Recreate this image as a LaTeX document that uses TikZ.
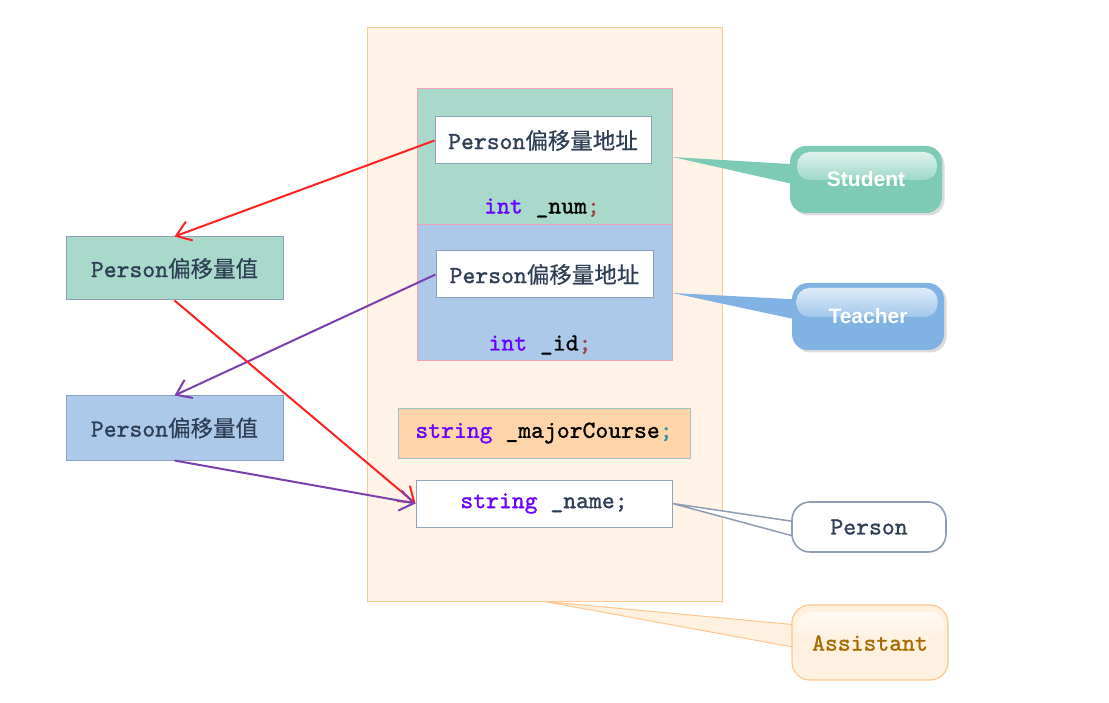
\documentclass[tikz,border=0pt]{standalone}
\usepackage{fontspec}
\newfontfamily\cjk{Noto Sans CJK SC}[FakeBold=0.5]
\newfontfamily\lsans{Liberation Sans}
\newfontfamily\codef{lmmono10-regular}[Extension=.otf, FakeBold=1.2]
\usetikzlibrary{arrows.meta}
\definecolor{outerfill}{HTML}{FFF2E6}
\definecolor{outerdraw}{HTML}{FFC98F}
\definecolor{stufill}{HTML}{A9D9CA}
\definecolor{teafill}{HTML}{ADC9EA}
\definecolor{pinkdraw}{HTML}{F2A2B6}
\definecolor{graydraw}{HTML}{8FA3B8}
\definecolor{majfill}{HTML}{FFD4A8}
\definecolor{majdraw}{HTML}{9CC2CA}
\definecolor{txt}{HTML}{2E3E55}
\definecolor{kw}{HTML}{6A00FF}
\definecolor{semired}{HTML}{A04040}
\definecolor{semiteal}{HTML}{2B91AF}
\definecolor{redarr}{HTML}{FF2222}
\definecolor{purarr}{HTML}{7A40B0}
\definecolor{stububfill}{HTML}{7ECBB5}
\definecolor{teububfill}{HTML}{80B3E3}
\definecolor{persdraw}{HTML}{8E9DB2}
\definecolor{asstfill}{HTML}{FFF0E0}
\definecolor{asstdraw}{HTML}{FFC68F}
\definecolor{assttxt}{HTML}{A86B00}
\newcommand\codesz{\codef\fontsize{24.5}{28}\selectfont}
\newcommand\perslabel[1]{{\codesz Person}{\cjk\fontsize{22.5}{28}\selectfont #1}}
\begin{document}
\begin{tikzpicture}[x=1pt,y=-1pt,
  box/.style={draw, rectangle, inner sep=0pt, line width=1pt},
  code/.style={font=\codesz, text=txt, inner sep=0pt},
  arr/.style={line width=2pt, -{Straight Barb[length=14pt,width=20pt,line width=2pt]}},
  bubble/.style={rectangle, rounded corners=16pt, inner sep=0pt},
  gloss/.style={rectangle, rounded corners=13pt, inner sep=0pt, draw=none},
  bubtxt/.style={font=\lsans\bfseries\fontsize{21}{24}\selectfont, text=white, inner sep=0pt}
]
\useasboundingbox (0,0) rectangle (1109,703);
\fill[white] (0,0) rectangle (1109,703);

% outer Assistant box
\node[box, draw=outerdraw, fill=outerfill, minimum width=355, minimum height=573] (outer) at (544.5,314.5) {};

% Student block
\node[box, draw=pinkdraw, fill=stufill, minimum width=255, minimum height=136] (stu) at (544.5,157) {};
\node[box, draw=graydraw, fill=white, minimum width=216, minimum height=47, text=txt] (in1) at (543,140.5) {\perslabel{偏移量地址}};
\node[code] (numtxt) at (542,208) {{\color{kw}int} {\color{black}\_num}{\color{semired};}};

% Teacher block
\node[box, draw=pinkdraw, fill=teafill, minimum width=255, minimum height=136] (tea) at (544.5,293) {};
\node[box, draw=graydraw, fill=white, minimum width=217, minimum height=47, text=txt] (in2) at (544.5,274.5) {\perslabel{偏移量地址}};
\node[code] (idtxt) at (540,345) {{\color{kw}int} {\color{black}\_id}{\color{semired};}};

% major course
\node[box, draw=majdraw, fill=majfill, minimum width=292, minimum height=50, font=\codesz] (maj) at (544,433) {{\color{kw}string} {\color{black}\_majorCourse}{\color{semiteal};}};

% name
\node[box, draw=graydraw, fill=white, minimum width=256, minimum height=47, font=\codesz, text=txt] (name) at (544,503.5) {{\color{kw}string} \_name;};

% left boxes
\node[box, draw=graydraw, fill=stufill, minimum width=217, minimum height=63, text=txt] (lg) at (174.5,268.5) {\perslabel{偏移量值}};
\node[box, draw=graydraw, fill=teafill, minimum width=217, minimum height=64, text=txt] (lb) at (174.5,428) {\perslabel{偏移量值}};

% arrows
\draw[arr, redarr] (in1.west) -- (lg.north);
\draw[arr, purarr] (in2.west) -- (lb.north);
\draw[arr, redarr] (lg.south) -- (name.west);
\draw[arr, purarr] (lb.south) -- (name.west);

% bubble shadows
\node[bubble, fill=black!14, minimum width=152, minimum height=67] (sbubsh) at (868.5,182) {};
\node[bubble, fill=black!14, minimum width=152, minimum height=67] (tbubsh) at (870.5,319) {};

% Student callout
\coordinate (sbubc) at (866,179.5);
\fill[stububfill] (stu.east) -- ([xshift=-60pt,yshift=14.5pt]sbubc) -- ([xshift=-60pt,yshift=-7.5pt]sbubc) -- cycle;
\node[bubble, fill=stububfill, minimum width=152, minimum height=67] (sbub) at (sbubc) {};
\node[gloss, top color=white!75!stububfill, bottom color=white!25!stububfill, minimum width=140, minimum height=28] (sgl) at (867,166) {};
\node[bubtxt] (stxt) at (866,179) {Student};

% Teacher callout
\coordinate (tbubc) at (868,316.5);
\fill[teububfill] (tea.east) -- ([xshift=-60pt,yshift=16.5pt]tbubc) -- ([xshift=-60pt,yshift=-5.5pt]tbubc) -- cycle;
\node[bubble, fill=teububfill, minimum width=152, minimum height=67] (tbub) at (tbubc) {};
\node[gloss, top color=white!75!teububfill, bottom color=white!25!teububfill, minimum width=141, minimum height=29] (tgl) at (867,302.5) {};
\node[bubtxt] (ttxt) at (868,316) {Teacher};

% Person callout
\coordinate (pbubc) at (869,527);
\filldraw[draw=persdraw, fill=white, line width=1.5pt] (name.east) -- ([xshift=-72pt,yshift=5pt]pbubc) -- ([xshift=-72pt,yshift=-10pt]pbubc) -- cycle;
\node[bubble, draw=persdraw, fill=white, line width=1.6pt, rounded corners=18pt, minimum width=154, minimum height=50, font=\codesz, text=txt] (pbub) at (pbubc) {Person};

% Assistant callout
\coordinate (abubc) at (870,642.5);
\filldraw[draw=asstdraw, fill=asstfill, line width=1pt] (outer.south) -- ([xshift=-72pt,yshift=17.5pt]abubc) -- ([xshift=-72pt,yshift=-5.5pt]abubc) -- cycle;
\node[bubble, draw=asstdraw, fill=asstfill, line width=1.2pt, rounded corners=18pt, minimum width=156, minimum height=75] (abub) at (abubc) {};
\node[gloss, top color=white!70!asstfill, bottom color=asstfill, minimum width=146, minimum height=28] (agl) at (871,626) {};
\node[code, text=assttxt] (atxt) at (870,643) {Assistant};
\end{tikzpicture}
\end{document}
